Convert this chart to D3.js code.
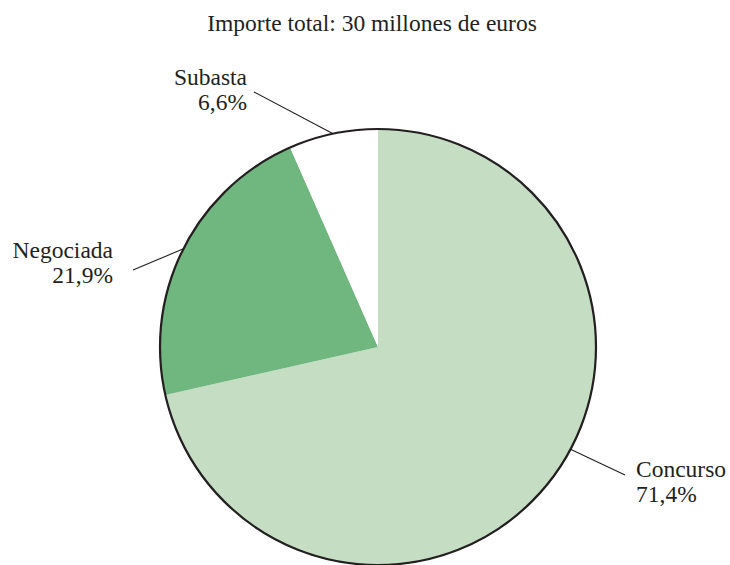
<!DOCTYPE html>
<html>
<head>
<meta charset="utf-8">
<script src="https://cdn.jsdelivr.net/npm/d3@7/dist/d3.min.js"></script>
<style>
  html, body { margin: 0; padding: 0; background: #fff; }
  svg { display: block; }
</style>
</head>
<body>
<svg id="chart" width="730" height="565"></svg>
<script>
// Distribución del importe por procedimiento de adjudicación
const categories = ["Concurso", "Negociada", "Subasta"];
const shares = [71.4, 21.9, 6.6];
const shareLabels = ["71,4%", "21,9%", "6,6%"];
const titleText = "Importe total: 30 millones de euros";

const colors = d3.scaleOrdinal()
  .domain(categories)
  .range(["#c4ddc3", "#6fb67f", "#ffffff"]);

const FONT = "'Liberation Serif', 'Times New Roman', serif";
const INK = "#231f20";
const FS = 23.5;
const cx = 378, cy = 347, r = 218;

const svg = d3.select("#chart");

svg.append("text")
  .attr("x", 372)
  .attr("y", 31)
  .attr("text-anchor", "middle")
  .attr("font-family", FONT)
  .attr("font-size", FS)
  .attr("fill", INK)
  .text(titleText);

const data = categories.map((c, i) => ({ name: c, value: shares[i], label: shareLabels[i] }));

const pie = d3.pie().value(d => d.value).sort(null);
const arcs = pie(data);
const arc = d3.arc().innerRadius(0).outerRadius(r);

const g = svg.append("g").attr("transform", `translate(${cx},${cy})`);

g.selectAll("path.slice")
  .data(arcs)
  .join("path")
  .attr("class", "slice")
  .attr("d", arc)
  .attr("fill", d => colors(d.data.name));

// outline around the whole pie only
g.append("circle")
  .attr("r", r)
  .attr("fill", "none")
  .attr("stroke", INK)
  .attr("stroke-width", 2.2);

// label layout: anchor angle on the rim, leader end, text position and alignment
const labelLayout = {
  "Concurso":  { angle: d => 118 * Math.PI / 180, end: [625, 475], tx: 636, ty: 477, anchor: "start" },
  "Negociada": { angle: d => (d.startAngle + d.endAngle) / 2, end: [133, 270], tx: 113, ty: 258, anchor: "end" },
  "Subasta":   { angle: d => (d.startAngle + d.endAngle) / 2, end: [254, 92], tx: 247, ty: 85, anchor: "end" }
};

arcs.forEach(d => {
  const L = labelLayout[d.data.name];
  const a = L.angle(d);
  const px = cx + r * Math.sin(a);
  const py = cy - r * Math.cos(a);
  svg.append("line")
    .attr("x1", px).attr("y1", py)
    .attr("x2", L.end[0]).attr("y2", L.end[1])
    .attr("stroke", INK)
    .attr("stroke-width", 1.1);
  const t = svg.append("text")
    .attr("x", L.tx)
    .attr("y", L.ty)
    .attr("text-anchor", L.anchor)
    .attr("font-family", FONT)
    .attr("font-size", FS)
    .attr("fill", INK);
  t.append("tspan").attr("x", L.tx).text(d.data.name);
  t.append("tspan").attr("x", L.tx).attr("dy", 24.5).text(d.data.label);
});
</script>
</body>
</html>
